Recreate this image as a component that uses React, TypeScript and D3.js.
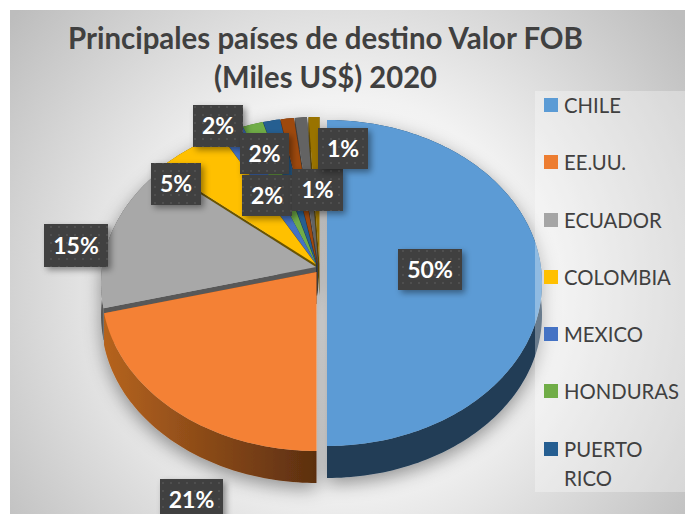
import React from "react";
import * as d3 from "d3";

const titleLines = ["Principales países de destino Valor FOB", "(Miles US$) 2020"];
const titleWidths = [515, 223];
const sliceNames = ["CHILE", "EE.UU.", "ECUADOR", "COLOMBIA", "MEXICO", "HONDURAS", "PUERTO RICO", "OTRO 1", "OTRO 2", "OTRO 3"];
const sliceValues = [50, 21, 15.1, 5.8, 2, 1.7, 1.4, 1.1, 1, 0.9];
const sliceColors = ["#5b9bd5", "#f48135", "#a8a8a8", "#ffc000", "#4472c4", "#70ad47", "#255e91", "#9e480e", "#636363", "#997300"];
const sideColors = ["#203c56", "url(#orangeSide)", "#595959", "#6b5400", "#2b4a80", "#44692b", "#173a5a", "#5f2b08", "#3c3c3c", "#5c4500"];
const apexOffset: [number, number][] = [[327, 267], [316.5, 272], [316, 267], [316, 264.5], [316, 264], [316, 264], [316.5, 264], [317, 264], [318, 264], [319.5, 264]];
const drawOrder = [9, 8, 7, 6, 5, 4, 3, 2, 1, 0];

const legendNames = [["CHILE"], ["EE.UU."], ["ECUADOR"], ["COLOMBIA"], ["MEXICO"], ["HONDURAS"], ["PUERTO", "RICO"]];
const legendColors = ["#5b9bd5", "#ed7d31", "#a5a5a5", "#ffc000", "#4472c4", "#70ad47", "#255e91"];
const legendY = [105, 162, 220, 277, 334, 391, 449];

const labels = ["2%", "2%", "2%", "5%", "15%", "50%", "21%", "1%", "1%"];
const labelBoxes: [number, number, number, number][] = [
  [193, 105, 50, 42], [240, 133, 49, 41], [242, 175, 50, 41], [151, 163, 50, 42],
  [44, 224, 64, 43], [398, 249, 64, 41], [160, 479, 63, 42], [292, 169, 51, 42], [318, 128, 50, 41],
];

const RX = 215, RY = 163, D = 16, DEPTH = 32;
const k = D / RY;

function rim(theta: number): [number, number] {
  const c = Math.cos(theta), s = Math.sin(theta), w = 1 + k * c;
  const cp = (c + k) / w, sp = (s * Math.sqrt(1 - k * k)) / w;
  return [RX * sp, D - RY * cp];
}

const pieGen = d3.pie<number>().sort(null).value((d) => d);
const arcs = pieGen(sliceValues);
const line = d3.line();

function Slice({ i }: { i: number }) {
  const a = arcs[i];
  const [ax, ay] = apexOffset[i];
  const n = Math.max(4, Math.ceil((a.endAngle - a.startAngle) / 0.02));
  const pts = d3.range(n + 1).map((j) => {
    const t = a.startAngle + ((a.endAngle - a.startAngle) * j) / n;
    const [x, y] = rim(t);
    return [ax + x, ay + y] as [number, number];
  });
  const down = (p: [number, number]) => [p[0], p[1] + DEPTH] as [number, number];
  const apex: [number, number] = [ax, ay];
  const top = [apex, ...pts];
  const strip = [...pts, ...pts.slice().reverse().map(down)];
  const cutA = [apex, pts[0], down(pts[0]), down(apex)];
  const cutB = [apex, pts[n], down(pts[n]), down(apex)];
  const side = sideColors[i];
  return (
    <g>
      <path d={line(strip) + "Z"} fill={side} />
      <path d={line(cutA) + "Z"} fill={side} />
      <path d={line(cutB) + "Z"} fill={side} />
      <path d={line(top) + "Z"} fill={sliceColors[i]} />
    </g>
  );
}

export default function App() {
  const font = "Lato, 'Open Sans', sans-serif";
  return (
    <svg width={685} height={514} style={{ position: "absolute", left: 0, top: 0 }}>
      <defs>
        <radialGradient id="bg" gradientUnits="userSpaceOnUse" cx={345} cy={290} r={430}>
          <stop offset="0" stopColor="#ffffff" />
          <stop offset="0.45" stopColor="#f2f2f2" />
          <stop offset="1" stopColor="#bdbdbd" />
        </radialGradient>
        <linearGradient id="orangeSide" gradientUnits="userSpaceOnUse" x1={105} x2={316} y1={0} y2={0}>
          <stop offset="0" stopColor="#b5631f" />
          <stop offset="1" stopColor="#5c2f10" />
        </linearGradient>
        <filter id="pieShadow" x="-20%" y="-20%" width="140%" height="140%">
          <feDropShadow dx={0} dy={6} stdDeviation={9} floodColor="#000" floodOpacity={0.4} />
        </filter>
        <filter id="boxShadow" x="-30%" y="-30%" width="160%" height="160%">
          <feDropShadow dx={3} dy={3} stdDeviation={3} floodColor="#000" floodOpacity={0.4} />
        </filter>
        <pattern id="dots" width={8} height={8} patternUnits="userSpaceOnUse">
          <rect width={8} height={8} fill="#404040" />
          <rect x={2} y={2} width={2} height={2} fill="#505050" />
        </pattern>
      </defs>
      <rect x={10} y={10} width={675} height={504} fill="url(#bg)" />
      {titleLines.map((t, i) => (
        <text key={t} x={325.5} y={49 + i * 38.5} textAnchor="middle" fontFamily={font} fontWeight={700} fontSize={31} fill="#404040" textLength={titleWidths[i]} lengthAdjust="spacingAndGlyphs">
          {t}
        </text>
      ))}
      <g filter="url(#pieShadow)">
        {drawOrder.map((i) => (
          <Slice key={sliceNames[i]} i={i} />
        ))}
      </g>
      <rect x={535} y={91} width={150} height={401} fill="#fff" fillOpacity={0.32} />
      {legendNames.map((names, i) => (
        <g key={names[0]}>
          <rect x={544} y={legendY[i] - 7} width={14} height={14} fill={legendColors[i]} />
          {names.map((n, j) => (
            <text key={n} x={564} y={legendY[i] + 7.5 + j * 29} fontFamily={font} fontSize={20.3} fill="#404040">
              {n}
            </text>
          ))}
        </g>
      ))}
      {labels.map((l, i) => {
        const [x, y, w, h] = labelBoxes[i];
        return (
          <g key={i}>
            <rect x={x} y={y} width={w} height={h} fill="url(#dots)" filter="url(#boxShadow)" />
            <text x={x + w / 2} y={y + h / 2 + 8} textAnchor="middle" fontFamily={font} fontWeight={700} fontSize={23} fill="#fff">
              {l}
            </text>
          </g>
        );
      })}
    </svg>
  );
}
